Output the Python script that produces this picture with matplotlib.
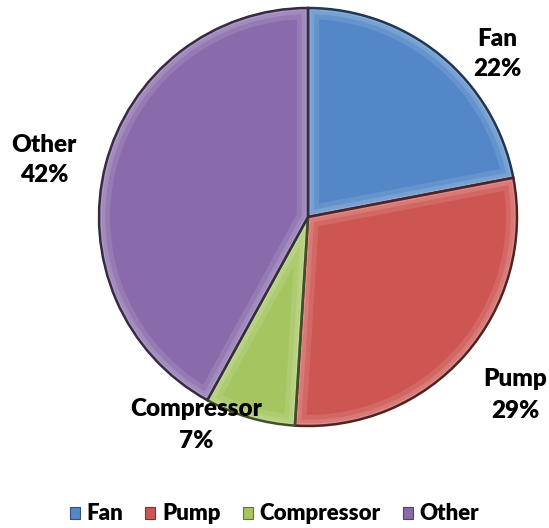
import numpy as np
import matplotlib
matplotlib.use("Agg")
import matplotlib.pyplot as plt
from matplotlib.patches import Wedge, Patch
import matplotlib.colors as mcolors

categories = ["Fan", "Pump", "Compressor", "Other"]
shares = [22, 29, 7, 42]
colors = ["#5387c7", "#cd5552", "#a5c560", "#896aab"]

W, H = 549, 528
fig = plt.figure(figsize=(W / 100, H / 100), dpi=100)
ax = fig.add_axes([0, 0, 1, 1])

cx, cy, r = 308, H - 217, 209

wedges, _ = ax.pie(shares, colors=colors, startangle=90, counterclock=False,
                   center=(cx, cy), radius=r, frame=True,
                   wedgeprops=dict(linewidth=0))
ax.set_xlim(0, W)
ax.set_ylim(0, H)
ax.set_aspect("equal")
ax.axis("off")


def shade(c, f):
    rgb = np.array(mcolors.to_rgb(c))
    if f > 0:
        return tuple(rgb + (1 - rgb) * f)
    return tuple(rgb * (1 + f))


# bevelled look: soft light band inside each slice edge, dark outline on top
for w, c in zip(wedges, colors):
    t1, t2 = w.theta1, w.theta2
    for lw, a in [(16, 0.18), (9, 0.22), (4, 0.25)]:
        band = Wedge((cx, cy), r, t1, t2, fill=False,
                     edgecolor=shade(c, 0.6), linewidth=lw, alpha=a)
        ax.add_patch(band)
        band.set_clip_path(w)
    outline = Wedge((cx, cy), r, t1, t2, fill=False,
                    edgecolor=shade(c, -0.6), linewidth=1.8)
    ax.add_patch(outline)

font = "Lato"
label_pos = [(497, 54), (515, 395), (196, 425), (44, 160)]
for (x, y), name, v in zip(label_pos, categories, shares):
    ax.text(x, H - y, f"{name}\n{v}%", ha="center", va="center",
            fontsize=17.5, fontweight="heavy", family=font, color="black",
            linespacing=1.5)

handles = [Patch(facecolor=c, edgecolor=shade(c, -0.4), linewidth=0.8)
           for c in colors]
leg = ax.legend(handles, categories, loc="center", ncol=4,
                bbox_to_anchor=(0.5, 14 / H), frameon=False,
                prop=dict(family=font, weight="heavy", size=16),
                handlelength=0.45, handleheight=0.45, handletextpad=0.3,
                columnspacing=1.0)

fig.savefig("out.png", dpi=100, facecolor="white")
